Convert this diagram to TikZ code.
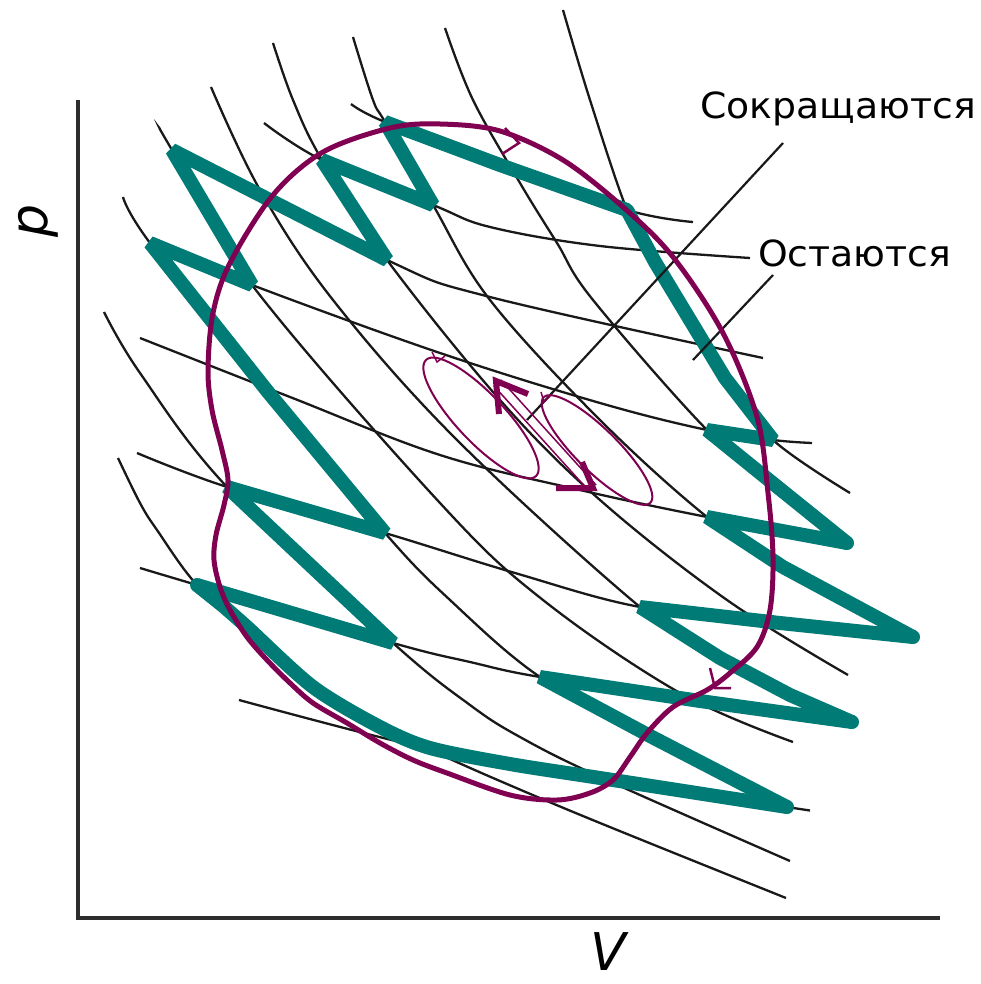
\documentclass[tikz,border=0pt]{standalone}
\usepackage{fontspec}
\setmainfont{DejaVu Sans}
\newfontfamily\lblfont[FakeStretch=1.05]{DejaVu Sans}
\newfontfamily\axfont{DejaVu Sans}
\definecolor{tealc}{RGB}{0,123,117}
\definecolor{purp}{RGB}{128,0,82}
\definecolor{axc}{RGB}{45,45,45}
\definecolor{curvec}{RGB}{25,25,25}
\begin{document}
\begin{tikzpicture}[x=1pt,y=-1pt,
  bcurve/.style={draw=curvec,line width=2.3pt},
  axisline/.style={draw=axc,line width=3.2pt,line join=miter},
  tealline/.style={draw=tealc,line width=14pt,line join=bevel},
  loopline/.style={draw=purp,line width=5pt},
  thinpurp/.style={draw=purp,line width=2pt},
  headpurp/.style={draw=purp,line width=6pt,line join=miter},
  leader/.style={draw=curvec,line width=2.2pt},
  lbl/.style={inner sep=0pt,font=\lblfont\fontsize{36}{40}\selectfont},
  axlbl/.style={inner sep=0pt,font=\axfont\itshape\fontsize{52}{58}\selectfont}]
\useasboundingbox[fill=white] (0,0) rectangle (981,984);

% axes
\draw[axisline] (78,100) -- (78,918) -- (940,918);

% shallow family (isotherms)
\draw[bcurve] plot[smooth,tension=0.6] coordinates {(239,700) (400,742) (510,763) (600,778) (787,807) (807,810)};
\draw[bcurve] plot[smooth,tension=0.6] coordinates {(140,568) (197,585) (393,643) (470,662) (540,677) (700,701) (852,722)};
\draw[bcurve] plot[smooth,tension=0.6] coordinates {(137,453) (227,487) (385,533) (515,573) (640,607) (780,623) (913,637)};
\draw[bcurve] plot[smooth,tension=0.6] coordinates {(150,243) (252,285) (440,353) (600,403) (707,430) (773,440) (812,443)};
\draw[bcurve] plot[smooth,tension=0.6] coordinates {(140,338) (290,397) (440,455) (580,490) (707,517) (847,543)};
\draw[bcurve] plot[smooth,tension=0.6] coordinates {(264,123) (322,160) (433,205) (490,227) (600,246) (750,258)};
\draw[bcurve] plot[smooth,tension=0.6] coordinates {(351,104) (385,122) (500,165) (627,210) (693,222)};
\draw[bcurve] plot[smooth,tension=0.6] coordinates {(172,150) (387,260) (490,297) (763,358)};

% steep family (adiabats)
\draw[bcurve] plot[smooth,tension=0.6] coordinates {(118,458) (140,503) (157,530) (197,585) (247,627) (313,687) (380,727) (430,750) (500,781) (600,823) (786,898)};
\draw[bcurve] plot[smooth,tension=0.6] coordinates {(104,312) (140,373) (227,487) (393,643) (470,705) (520,737) (600,777) (790,861)};
\draw[bcurve] plot[smooth,tension=0.6] coordinates {(123,197) (150,243) (268,392) (385,533) (450,600) (540,677) (650,736) (787,807)};
\draw[bcurve] plot[smooth,tension=0.6] coordinates {(160,129) (172,150) (252,285) (440,503) (543,600) (680,693) (793,742)};
\draw[bcurve] plot[smooth,tension=0.6] coordinates {(211,87) (260,190) (333,300) (457,440) (640,607) (720,658) (790,695) (852,722)};
\draw[bcurve] plot[smooth,tension=0.6] coordinates {(273,43) (293,100) (322,160) (387,260) (500,400) (600,500) (727,600) (848,675)};
\draw[bcurve] plot[smooth,tension=0.6] coordinates {(353,37) (373,100) (385,122) (433,205) (490,300) (600,420) (707,517) (783,567) (913,637)};
\draw[bcurve] plot[smooth,tension=0.6] coordinates {(445,28) (473,100) (520,183) (557,243) (593,300) (707,430) (775,485) (847,543)};
\draw[bcurve] plot[smooth,tension=0.6] coordinates {(563,10) (590,100) (627,210) (655,262) (690,320) (725,378) (773,440) (850,493)};

% teal boundary
\draw[tealline] (172,150) -- (252,285) -- (150,243) -- (268,392) -- (385,533) -- (227,487) -- (393,643)
  -- (197,585) -- plot[smooth,tension=0.5] coordinates {(222,605) (247,627) (313,687) (380,727) (430,748) (510,764) (600,778) (787,807)}
  -- (650,736) -- (540,677) -- (700,701) -- (852,722) -- (790,695) -- (720,658) -- (640,607)
  -- (780,623) -- (913,637) -- (783,567) -- (707,517) -- (847,543) -- (775,485) -- (707,430)
  -- (773,440) -- (725,378) -- (690,320) -- (655,262) -- (627,210) -- (500,165) -- (385,122)
  -- (433,205) -- (322,160) -- (387,260) -- cycle;
\foreach \p in {(197,585),(787,807),(852,722),(913,637),(847,543)}
  \fill[tealc] \p circle (7pt);

% leaders
\coordinate (lA1) at (783,143);
\coordinate (lA2) at (527,420);
\coordinate (lB1) at (773,275);
\coordinate (lB2) at (693,360);
\draw[leader] (lA1) -- (lA2);
\draw[leader] (lB1) -- (lB2);

% small cycles
\draw[thinpurp,rotate around={-46.6:(481,418)}] (481,418) ellipse [x radius=80,y radius=24];
\draw[thinpurp,rotate around={-44.7:(597,450)}] (597,450) ellipse [x radius=75,y radius=21];
\draw[thinpurp,line width=1.5pt] (494,386) -- (589,491);
\draw[thinpurp,line width=1.5pt] (501,380) -- (596,485);
\draw[headpurp] (528,394) -- (496,381) -- (499,414);
\draw[headpurp] (556,488) -- (593,488) -- (582,462);
\draw[thinpurp,line width=1.5pt] (432,352) -- (437,362) -- (445,356);
\draw[thinpurp,line width=1.5pt] (541,392) -- (544,402) -- (550,396);

% main cycle
\draw[loopline] plot[smooth cycle,tension=0.55] coordinates {(390,128) (440,124) (500,131) (563,160) (623,207) (673,257) (723,333) (757,417) (768,493) (773,557) (770,610) (757,647) (730,673) (707,690) (673,707) (647,733) (630,757) (613,780) (590,793) (557,800) (510,795) (447,773) (413,760) (380,743) (347,723) (313,703) (290,683) (267,660) (247,637) (230,610) (220,587) (214,560) (216,535) (224,505) (228,480) (222,450) (212,410) (208,370) (213,313) (230,263) (273,195) (323,152)};
\draw[thinpurp,line width=2.5pt] (505,128) -- (519,143) -- (502,154);
\draw[thinpurp,line width=2.5pt] (710,668) -- (715,688) -- (731,688);

% labels
\node[lbl,anchor=base west] (sokr) at (700,119) {Сокращаются};
\node[lbl,anchor=base west] (ost) at (758,266) {Остаются};
\node[axlbl,rotate=90,anchor=base] (plab) at (47,221) {p};
\node[axlbl,anchor=base] (vlab) at (608,970) {V};
\end{tikzpicture}
\end{document}
